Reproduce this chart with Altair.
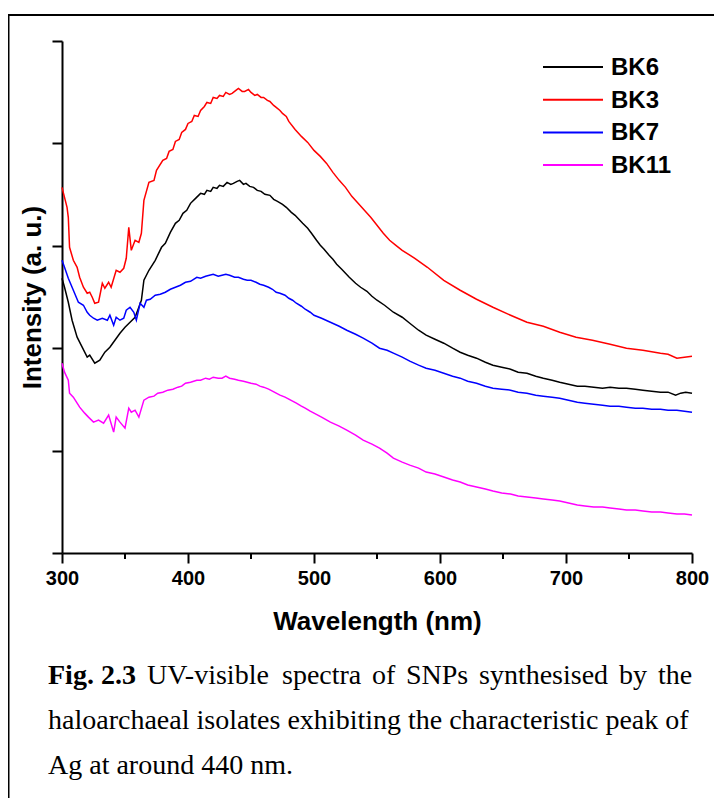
import altair as alt
import pandas as pd

series_names = ["BK6", "BK3", "BK7", "BK11"]
series_colors = ["#000000", "#ff0000", "#0000ff", "#ff00ff"]

bk6_wl = [300, 302, 305, 308, 312, 316, 320, 322, 326, 330, 334, 338, 342, 346, 350, 354, 358, 361, 363, 365,
          369, 374, 379, 382, 386, 390, 393, 396, 399, 402, 406, 410, 413, 415, 418, 420, 423, 425, 428, 431,
          434, 436, 439, 441, 444, 446, 449, 452, 455, 458, 461, 465, 468, 471, 475, 478, 482, 485, 488, 491,
          495, 498, 502, 505, 508, 512, 515, 518, 522, 528, 533, 537, 542, 546, 550, 556, 563, 570, 576, 583,
          589, 596, 603, 610, 616, 622, 629, 636, 642, 649, 656, 662, 669, 676, 682, 689, 695, 702, 709, 715,
          722, 729, 735, 742, 748, 755, 761, 768, 775, 781, 787, 791, 795, 800]
bk6_int = [275, 266, 251, 233, 216, 206, 196, 198, 190, 193, 201, 206, 213, 220, 226, 231, 236, 246, 253, 273,
           283, 293, 306, 310, 321, 330, 333, 340, 343, 350, 355, 360, 359, 363, 362, 366, 365, 368, 367, 371,
           369, 370, 372, 373, 369, 370, 367, 366, 363, 362, 359, 358, 354, 352, 349, 346, 341, 338, 334, 330,
           325, 320, 313, 308, 304, 298, 294, 289, 284, 276, 270, 266, 262, 257, 253, 248, 241, 236, 230, 223,
           218, 214, 210, 205, 201, 198, 195, 191, 188, 186, 184, 181, 180, 177, 175, 173, 171, 169, 167, 167,
           166, 165, 166, 165, 165, 164, 163, 162, 161, 161, 158, 160, 161, 160]

bk3_wl = [300, 304, 305, 306, 309, 312, 314, 317, 320, 322, 324, 326, 329, 332, 334, 337, 339, 343, 346, 349,
          351, 353, 355, 358, 361, 363, 365, 369, 373, 375, 380, 383, 385, 388, 390, 393, 395, 398, 400, 403,
          405, 408, 410, 413, 415, 418, 420, 423, 425, 428, 430, 433, 435, 438, 440, 443, 445, 448, 450, 453,
          455, 458, 460, 463, 465, 468, 470, 473, 475, 478, 480, 485, 490, 495, 500, 505, 510, 515, 520, 525,
          530, 535, 540, 545, 550, 555, 560, 565, 570, 580, 590, 603, 616, 629, 642, 656, 669, 682, 695, 708,
          721, 735, 748, 761, 775, 781, 788, 794, 800]
bk3_int = [366, 346, 336, 306, 293, 286, 276, 266, 260, 261, 256, 250, 251, 270, 265, 271, 266, 283, 281, 285,
           295, 326, 303, 313, 311, 320, 353, 371, 373, 383, 393, 395, 402, 404, 412, 414, 421, 424, 430, 432,
           438, 437, 443, 447, 451, 450, 456, 455, 458, 457, 461, 459, 460, 463, 465, 462, 462, 464, 461, 458,
           459, 456, 456, 453, 452, 448, 446, 443, 440, 437, 432, 424, 417, 411, 403, 397, 390, 381, 373, 366,
           357, 350, 343, 336, 328, 320, 313, 308, 303, 295, 286, 273, 263, 254, 246, 238, 231, 227, 221, 216,
           213, 209, 205, 203, 200, 199, 195, 196, 197]

bk7_wl = [300, 302, 305, 308, 310, 313, 317, 320, 322, 325, 328, 332, 336, 338, 341, 343, 346, 349, 351, 354,
          357, 359, 362, 365, 367, 370, 374, 378, 382, 386, 390, 394, 398, 402, 407, 410, 414, 417, 420, 424,
          427, 430, 433, 437, 440, 444, 447, 450, 454, 457, 460, 464, 467, 470, 473, 477, 480, 483, 486, 490,
          493, 497, 500, 506, 513, 520, 526, 533, 539, 546, 552, 558, 563, 570, 576, 583, 589, 596, 603, 610,
          616, 622, 629, 636, 642, 649, 656, 662, 669, 676, 682, 689, 695, 702, 709, 715, 722, 729, 735, 742,
          748, 755, 761, 768, 775, 781, 788, 794, 800]
bk7_int = [293, 286, 275, 266, 260, 251, 248, 241, 238, 235, 233, 235, 233, 238, 228, 236, 233, 235, 243, 246,
           241, 233, 250, 246, 253, 254, 258, 259, 261, 264, 266, 268, 271, 272, 276, 275, 277, 278, 279, 277,
           278, 279, 278, 276, 276, 274, 273, 273, 271, 269, 268, 266, 264, 261, 260, 258, 255, 253, 250, 247,
           244, 241, 238, 235, 231, 227, 223, 219, 215, 210, 205, 203, 200, 196, 192, 188, 185, 183, 180, 177,
           175, 172, 170, 167, 165, 164, 163, 161, 160, 158, 157, 156, 155, 153, 151, 150, 149, 148, 147, 147,
           146, 145, 145, 144, 144, 143, 143, 142, 141]

bk11_wl = [300, 302, 305, 306, 309, 312, 314, 318, 321, 325, 329, 333, 337, 341, 343, 346, 350, 353, 355, 358,
           361, 365, 369, 373, 376, 380, 384, 388, 392, 395, 398, 402, 407, 410, 414, 417, 420, 424, 427, 430,
           433, 437, 440, 444, 447, 450, 454, 457, 460, 464, 467, 470, 473, 477, 480, 483, 486, 490, 493, 497,
           500, 506, 513, 520, 526, 533, 539, 546, 552, 558, 563, 570, 576, 583, 589, 596, 603, 610, 616, 622,
           629, 636, 642, 649, 656, 662, 669, 676, 682, 689, 695, 702, 709, 715, 722, 729, 735, 742, 748, 755,
           761, 768, 775, 781, 788, 794, 800]
bk11_int = [190, 181, 173, 160, 156, 150, 146, 140, 136, 131, 133, 130, 138, 121, 136, 131, 125, 145, 141, 143,
            136, 153, 156, 157, 160, 161, 163, 164, 166, 167, 170, 171, 173, 173, 175, 174, 176, 175, 175, 177,
            175, 174, 173, 172, 171, 170, 169, 167, 166, 164, 162, 160, 158, 156, 154, 152, 150, 147, 145, 142,
            140, 136, 131, 127, 123, 118, 113, 109, 105, 100, 95, 91, 88, 85, 81, 79, 76, 73, 71, 68,
            66, 64, 62, 60, 59, 57, 56, 55, 54, 53, 52, 50, 48, 47, 46, 46, 45, 44, 43, 43,
            42, 41, 41, 40, 39, 39, 38]

x_ticks = [300, 400, 500, 600, 700, 800]
x_minor_ticks = [350, 450, 550, 650, 750]
y_ticks = [0, 102.5, 205, 307.5, 410, 512.5]

caption_bold = "Fig. 2.3"
caption_line1_words = ["UV-visible", "spectra", "of", "SNPs", "synthesised", "by", "the"]
caption_line2 = "haloarchaeal isolates exhibiting the characteristic peak of"
caption_line3 = "Ag at around 440 nm."

frames = []
for name, wl, iv in [("BK6", bk6_wl, bk6_int), ("BK3", bk3_wl, bk3_int),
                     ("BK7", bk7_wl, bk7_int), ("BK11", bk11_wl, bk11_int)]:
    frames.append(pd.DataFrame({"wl": wl, "intensity": iv, "series": name}))
df = pd.concat(frames, ignore_index=True)

W, H = 630, 512
SANS = "Liberation Sans"
SERIF = "Liberation Serif"

xscale = alt.Scale(domain=[300, 800], nice=False, zero=False)
yscale = alt.Scale(domain=[0, 512.5], nice=False, zero=False)

lines = alt.Chart(df).mark_line(strokeWidth=1.5).encode(
    x=alt.X("wl:Q", scale=xscale,
            axis=alt.Axis(values=x_ticks, title="Wavelength (nm)", format="d",
                          labelFont=SANS, labelFontWeight="bold", labelFontSize=20,
                          labelColor="black", labelPadding=5, labelFlush=False,
                          titleFont=SANS, titleFontWeight="bold", titleFontSize=26,
                          titleColor="black", titlePadding=20,
                          tickSize=10, tickWidth=2, tickColor="black",
                          domainWidth=2, domainColor="black", grid=False)),
    y=alt.Y("intensity:Q", scale=yscale,
            axis=alt.Axis(values=y_ticks, labels=False, title="Intensity (a. u.)",
                          titleFont=SANS, titleFontWeight="bold", titleFontSize=26,
                          titleColor="black", titlePadding=6,
                          tickSize=10, tickWidth=2, tickColor="black",
                          domainWidth=2, domainColor="black", grid=False)),
    color=alt.Color("series:N", scale=alt.Scale(domain=series_names, range=series_colors),
                    legend=None),
    order=alt.Order("wl:Q"),
)

minor = alt.Chart(pd.DataFrame({"wl": x_minor_ticks})).mark_rule(
    color="black", strokeWidth=2).encode(
    x=alt.X("wl:Q", scale=xscale),
    y=alt.value(H),
    y2=alt.value(H + 6))

layers = [lines, minor]

# legend (manual)
for i, (name, col) in enumerate(zip(series_names, series_colors)):
    ld = pd.DataFrame({"series": [name]})
    yy = 26 + i * 32.7
    layers.append(alt.Chart(ld).mark_rule(color=col, strokeWidth=2).encode(
        x=alt.value(481), x2=alt.value(541), y=alt.value(yy)))
    layers.append(alt.Chart(ld).mark_text(
        align="left", baseline="middle", font=SANS, fontWeight="bold",
        fontSize=24, color="black").encode(
        x=alt.value(549), y=alt.value(yy + 1), text="series:N"))

# frame lines (top and left border)
frame_df = pd.DataFrame({"k": [0]})
layers.append(alt.Chart(frame_df).mark_rule(color="black", strokeWidth=2).encode(
    x=alt.value(-54), x2=alt.value(660), y=alt.value(-26)))
layers.append(alt.Chart(frame_df).mark_rule(color="black", strokeWidth=2).encode(
    x=alt.value(-53.5), y=alt.value(-27), y2=alt.value(760)))

# caption (line 1 justified word by word)
cap = pd.DataFrame({"b": [caption_bold], "l2": [caption_line2], "l3": [caption_line3]})
layers.append(alt.Chart(cap).mark_text(
    align="left", baseline="alphabetic", font=SERIF, fontWeight="bold",
    fontSize=28, color="black").encode(x=alt.value(-14), y=alt.value(643), text="b:N"))
word_left = [85, 220, 310, 344, 417, 557, 596]
for wx, word in zip(word_left, caption_line1_words):
    layers.append(alt.Chart(pd.DataFrame({"w": [word]})).mark_text(
        align="left", baseline="alphabetic", font=SERIF,
        fontSize=28, color="black").encode(x=alt.value(wx), y=alt.value(643), text="w:N"))
layers.append(alt.Chart(cap).mark_text(
    align="left", baseline="alphabetic", font=SERIF,
    fontSize=28, color="black").encode(x=alt.value(-14), y=alt.value(688), text="l2:N"))
layers.append(alt.Chart(cap).mark_text(
    align="left", baseline="alphabetic", font=SERIF,
    fontSize=28, color="black").encode(x=alt.value(-14), y=alt.value(733), text="l3:N"))

chart = alt.layer(*layers).properties(
    width=W, height=H,
    autosize=alt.AutoSizeParams(type="none"),
    padding={"left": 54, "top": 33, "right": 22, "bottom": 245},
    background="white",
).configure_view(stroke=None)

chart.save("out.html", embed_options={"renderer": "svg", "actions": False})
